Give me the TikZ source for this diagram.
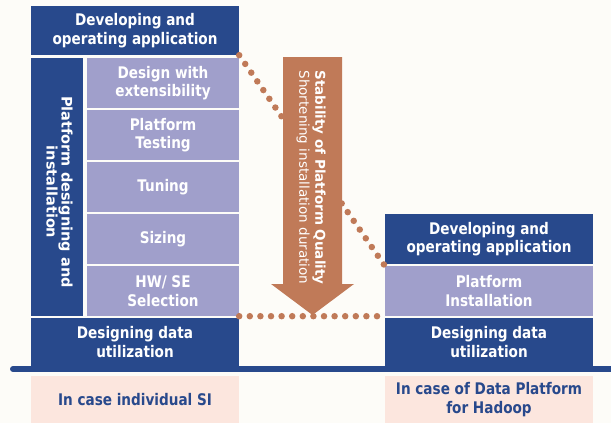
\documentclass[tikz,border=0pt]{standalone}
\usepackage{fontspec}
\setmainfont{DejaVu Sans}[FakeStretch=0.85]
\newfontfamily\upfont{DejaVu Sans}
\usepackage{tikz}
\usetikzlibrary{positioning,calc}
\definecolor{navyBlue}{RGB}{40,73,140}
\definecolor{lavender}{RGB}{160,159,203}
\definecolor{clay}{RGB}{192,122,88}
\definecolor{blush}{RGB}{252,230,222}
\definecolor{paperBg}{RGB}{253,252,248}

\begin{document}
\begin{tikzpicture}[x=1pt,y=1pt]
  \tikzstyle{layer} = [fill=navyBlue, text=white, rectangle, inner sep=0pt, minimum width=208pt, minimum height=48pt, align=center, font={\fontsize{16}{18.5}\selectfont\bfseries}]
  \tikzstyle{task} = [layer, fill=lavender, minimum width=152pt, minimum height=50pt, node distance=52pt]
  \tikzstyle{caseBox} = [layer, fill=blush, text=navyBlue, minimum height=47pt]
  \tikzstyle{dotEdge} = [clay, line width=6.5pt, line cap=round, dash pattern=on 0pt off 10.6pt]
  \tikzstyle{rotLabel} = [text=white, align=center, rotate=-90, inner sep=0pt]

  \fill[paperBg] (0,0) rectangle (611,-423);
  \useasboundingbox (0,0) rectangle (611,-423);

  \node[layer, name=devL, minimum height=49pt] at (135,-30.5) {Developing and\\operating application};
  \node[layer, name=platL, minimum width=52pt, minimum height=258pt] at (57,-187) {};
  \node[rotLabel, name=platText, font={\upfont\fontsize{14.5}{15}\selectfont\bfseries}] at (59.5,-192) {Platform designing and\\installation};
  \node[task, name=design] at (163,-83) {Design with\\extensibility};
  \node[task, name=testing, below of=design] {Platform\\Testing};
  \node[task, name=tuning, below of=testing] {Tuning};
  \node[task, name=sizing, below of=tuning] {Sizing};
  \node[task, name=hwse, below of=sizing] {HW/ SE\\Selection};
  \node[layer, name=dataL] at (135,-342) {Designing data\\utilization};
  \node[caseBox, name=caseL] at (135,-399.5) {In case individual SI};

  \node[layer, name=dataR] at (489,-342) {Designing data\\utilization};
  \node[task, name=instR, minimum width=208pt, above of=dataR, node distance=51pt] {Platform\\Installation};
  \node[layer, name=devR, minimum height=50pt, above of=instR, node distance=52pt] {Developing and\\operating application};
  \node[caseBox, name=caseR] at (489,-399.5) {In case of Data Platform\\for Hadoop};

  \draw[navyBlue, line width=6pt, line cap=round] (13,-369) -- (620,-369);

  \draw (devL.south east) edge[dotEdge] (instR.north west);

  \fill[clay] (283,-57) -- (342,-57) -- (342,-284) -- (354,-284) -- (312.5,-315)
      -- (271,-284) -- (283,-284) -- cycle;
  \node[rotLabel, name=gainText, font={\upfont\fontsize{13.5}{16}\selectfont}] at (311,-177.5)
      {\bfseries Stability of Platform Quality\\Shortening installation duration};

  \draw (hwse.south east) edge[dotEdge] (instR.south west);
\end{tikzpicture}
\end{document}
